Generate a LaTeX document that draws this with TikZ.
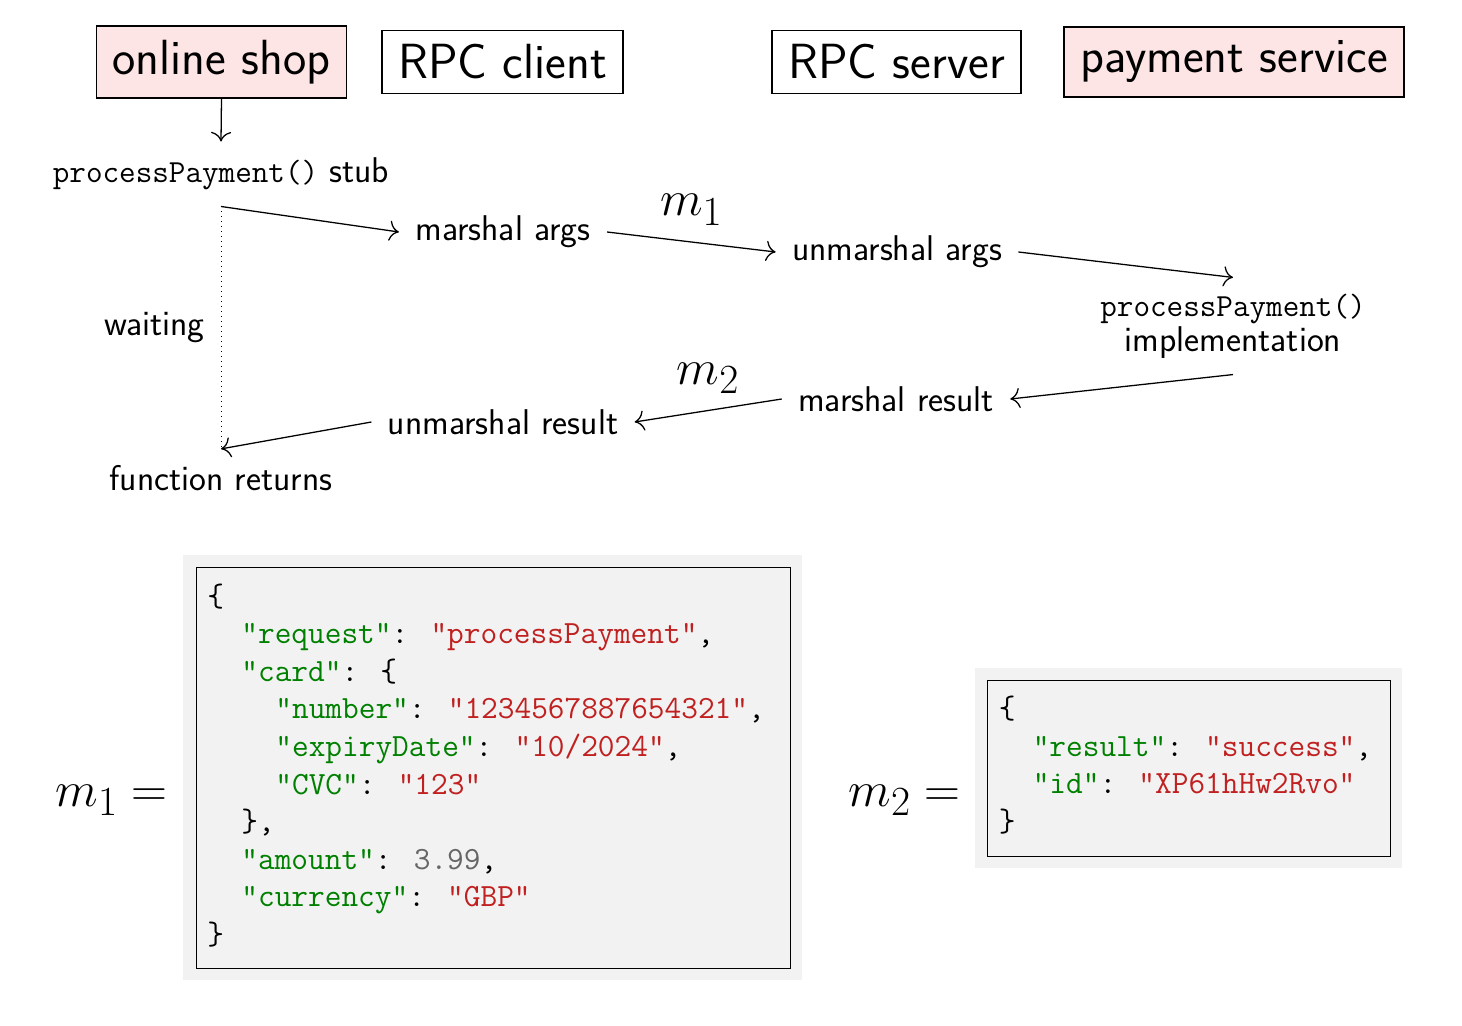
\RequirePackage{fix-cm}
\documentclass[tikz,border=0pt]{standalone}
\usepackage{fontspec}
\usetikzlibrary{arrows.meta}
\definecolor{pinkfill}{HTML}{FDE5E5}
\definecolor{codebg}{HTML}{F2F2F2}
\definecolor{jkey}{HTML}{008000}
\definecolor{jstr}{HTML}{C02020}
\definecolor{jnum}{HTML}{666666}
\newcommand\jk[1]{\textcolor{jkey}{"#1"}}
\newcommand\js[1]{\textcolor{jstr}{"#1"}}
\newcommand\ttcode{\ttfamily\fontsize{16.1}{17.5}\selectfont}
\begin{document}
\begin{tikzpicture}[x=0.5pt,y=-0.5pt,
  actor/.style={draw, line width=0.64pt, inner xsep=8pt, inner ysep=7pt, font=\sffamily\fontsize{24.7}{28}\selectfont},
  human/.style={actor, fill=pinkfill},
  lbl/.style={inner sep=8pt, font=\sffamily\fontsize{17.9}{17.5}\selectfont},
  arr/.style={-{To[scale=1.6]}, line width=0.64pt},
  mlbl/.style={inner sep=8pt, font=\fontsize{24.88}{28}\selectfont},
  code/.style={anchor=base west, inner sep=0pt, font=\ttfamily\fontsize{16.2}{18.8}\selectfont},
  codeframe/.style={draw, line width=0.5pt, fill=codebg},
]
\useasboundingbox (0,0) rectangle (1462,1026);

% participants
\node[human] (shop) at (221.5,62) {online shop};
\node[actor] (client) at (502.5,62) {RPC client};
\node[actor] (server) at (896.5,62) {RPC server};
\node[human] (pay) at (1234,62) {payment service};

% steps
\node[lbl] (stub) at (221,174) {{\ttcode processPayment()} stub};
\node[lbl] (marshal) at (503,232) {marshal args};
\node[lbl] (unm) at (897,252) {unmarshal args};
\node[lbl, align=center] (impl) at (1233,326) {{\ttcode processPayment()}\\implementation};
\node[lbl] (mres) at (896,399) {marshal result};
\node[lbl] (ures) at (503,422) {unmarshal result};
\node[lbl] (ret) at (221,478) {function returns};

% connectors
\draw[arr] (shop.south) -- (stub.north);
\draw[arr] (stub.south) -- (marshal.west);
\draw[arr] (marshal.east) -- node[mlbl, above] (lm1) {$m_1$} (unm.west);
\draw[arr] (unm.east) -- (impl.north);
\draw[arr] (impl.south) -- (mres.east);
\draw[arr] (mres.west) -- node[mlbl, above] (lm2) {$m_2$} (ures.east);
\draw[arr] (ures.west) -- (ret.north);
\draw[dotted, line width=0.5pt] (stub.south) -- node[lbl, left] (wait) {waiting} (ret.north);

% message m1
\fill[codebg] (183,555) rectangle (802,980);
\draw[codeframe] (196,567) rectangle (790,968);
\node[mlbl, anchor=base west, inner sep=0pt] (eq1) at (55,806) {$m_1 =$};
\node[code] (a1) at (207,606) {\{};
\node[code] (a2) at (241,643.6) {\jk{request}: \js{processPayment},};
\node[code] (a3) at (241,681.2) {\jk{card}: \{};
\node[code] (a4) at (275,718.8) {\jk{number}: \js{1234567887654321},};
\node[code] (a5) at (275,756.4) {\jk{expiryDate}: \js{10/2024},};
\node[code] (a6) at (275,794) {\jk{CVC}: \js{123}};
\node[code] (a7) at (241,831.6) {\},};
\node[code] (a8) at (241,869.2) {\jk{amount}: \textcolor{jnum}{3.99},};
\node[code] (a9) at (241,906.8) {\jk{currency}: \js{GBP}};
\node[code] (a10) at (207,944.4) {\}};

% message m2
\fill[codebg] (975,668) rectangle (1402,868);
\draw[codeframe] (987,680) rectangle (1390,856);
\node[mlbl, anchor=base west, inner sep=0pt] (eq2) at (848,806) {$m_2 =$};
\node[code] (b1) at (998.4,718.4) {\{};
\node[code] (b2) at (1032.4,756) {\jk{result}: \js{success},};
\node[code] (b3) at (1032.4,793.6) {\jk{id}: \js{XP61hHw2Rvo}};
\node[code] (b4) at (998.4,831.2) {\}};
\end{tikzpicture}
\end{document}
